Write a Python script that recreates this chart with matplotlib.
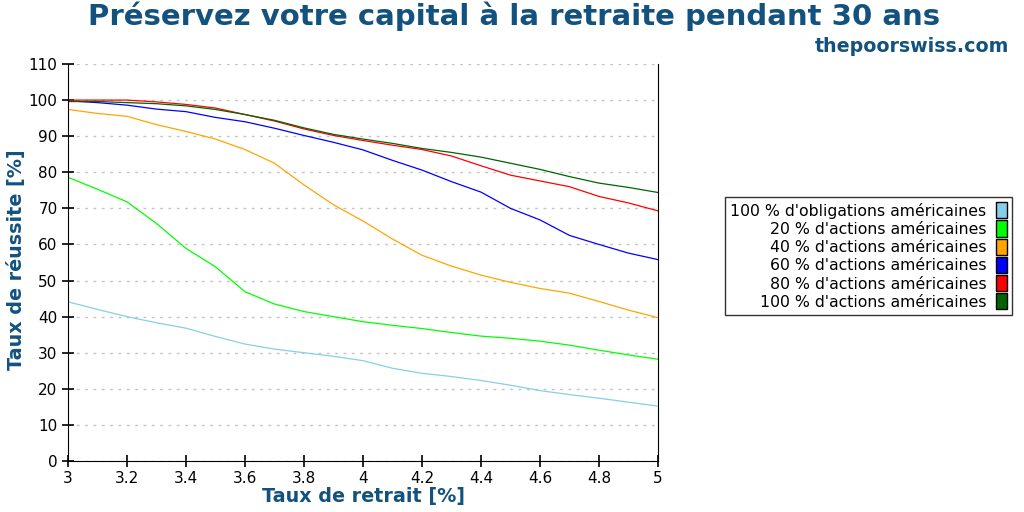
import numpy as np
import matplotlib
matplotlib.use("Agg")
import matplotlib.pyplot as plt
from matplotlib.patches import Patch

# withdrawal rates (%)
rates = [3.0, 3.1, 3.2, 3.3, 3.4, 3.5, 3.6, 3.7, 3.8, 3.9, 4.0,
         4.1, 4.2, 4.3, 4.4, 4.5, 4.6, 4.7, 4.8, 4.9, 5.0]

bonds_100 = [44.1, 42.0, 40.0, 38.3, 36.8, 34.5, 32.4, 31.0, 30.0, 29.0, 27.8,
             25.7, 24.3, 23.4, 22.3, 21.0, 19.5, 18.4, 17.4, 16.3, 15.2]
stocks_20 = [78.6, 75.3, 71.8, 65.8, 58.9, 53.8, 46.9, 43.5, 41.4, 40.0, 38.6,
             37.6, 36.7, 35.6, 34.6, 34.0, 33.2, 32.1, 30.7, 29.4, 28.2]
stocks_40 = [97.4, 96.3, 95.5, 93.2, 91.3, 89.2, 86.3, 82.5, 76.5, 71.0, 66.5,
             61.5, 57.0, 54.0, 51.5, 49.5, 47.8, 46.5, 44.2, 41.8, 39.7]
stocks_60 = [99.8, 99.3, 98.6, 97.5, 96.8, 95.2, 94.0, 92.2, 90.2, 88.3, 86.2,
             83.3, 80.6, 77.4, 74.5, 70.0, 66.8, 62.5, 60.0, 57.6, 55.8]
stocks_80 = [100.0, 100.0, 100.0, 99.5, 98.8, 97.8, 96.0, 94.2, 92.0, 90.2, 88.8,
             87.5, 86.3, 84.5, 81.8, 79.2, 77.6, 76.0, 73.3, 71.5, 69.3]
stocks_100 = [99.6, 99.6, 99.3, 99.0, 98.4, 97.4, 96.0, 94.4, 92.3, 90.5, 89.2,
              88.0, 86.6, 85.5, 84.2, 82.5, 80.8, 78.8, 77.0, 75.8, 74.4]

labels = ["100 % d'obligations américaines",
          "20 % d'actions américaines",
          "40 % d'actions américaines",
          "60 % d'actions américaines",
          "80 % d'actions américaines",
          "100 % d'actions américaines"]
colors = ["skyblue", "lime", "orange", "blue", "red", "darkgreen"]
series = [bonds_100, stocks_20, stocks_40, stocks_60, stocks_80, stocks_100]

blue_txt = "#13527f"

fig = plt.figure(figsize=(10.24, 5.12), dpi=100)
ax = fig.add_axes([0.0664, 0.0996, 0.5762, 0.7754])

for vals, col in zip(series, colors):
    ax.plot(rates, vals, color=col, lw=0.9)

ax.set_xlim(3, 5)
ax.set_ylim(0, 110)
ax.set_xticks(np.arange(3, 5.01, 0.2))
ax.set_xticklabels(["3", "3.2", "3.4", "3.6", "3.8", "4", "4.2", "4.4", "4.6", "4.8", "5"])
ax.set_yticks(np.arange(0, 111, 10))
ax.yaxis.grid(True, color="#c4c4c4", linestyle=(0, (2, 4)), lw=1)
ax.spines["top"].set_visible(False)
ax.tick_params(direction="inout", length=8, width=1.2, labelsize=11)
ax.tick_params(axis="y", right=False)

ax.set_xlabel("Taux de retrait [%]", fontsize=13.8, fontweight="bold", color=blue_txt)
ax.set_ylabel("Taux de réussite [%]", fontsize=13.8, fontweight="bold", color=blue_txt)
ax.xaxis.set_label_coords(0.5, -0.066)
ax.yaxis.set_label_coords(-0.072, 0.506)

fig.text(0.502, 0.968, "Préservez votre capital à la retraite pendant 30 ans",
         ha="center", va="center", fontsize=21, fontweight="bold", color=blue_txt)
fig.text(0.985, 0.91, "thepoorswiss.com", ha="right", va="center",
         fontsize=13.7, fontweight="bold", color=blue_txt)

handles = [Patch(facecolor=c, edgecolor="black", lw=1) for c in colors]
leg = fig.legend(handles, labels, loc="center right", bbox_to_anchor=(0.996, 0.5),
                 markerfirst=False, fancybox=False, fontsize=11.3,
                 handlelength=0.7, handleheight=1.2, handletextpad=0.6,
                 labelspacing=0.12, borderpad=0.35)
leg.get_frame().set_edgecolor("black")
leg.get_frame().set_linewidth(1.0)
for t in leg.get_texts():
    t.set_ha("right")
leg._legend_box.align = "right"

fig.savefig("out.png", dpi=100)
